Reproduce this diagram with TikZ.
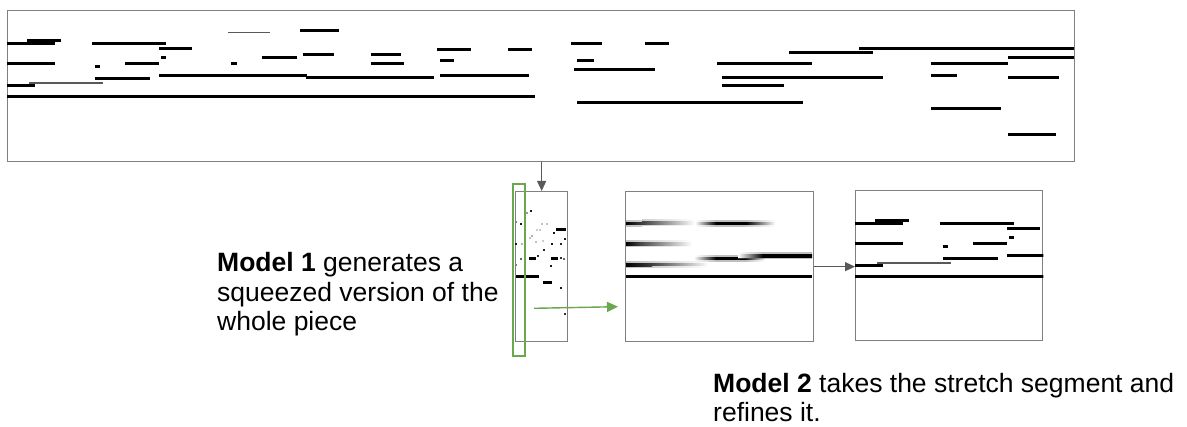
\documentclass[tikz,border=0pt]{standalone}
\usepackage{fontspec}
\setmainfont{Liberation Sans}
\usetikzlibrary{arrows.meta,calc}

\definecolor{framegray}{RGB}{128,128,128}
\definecolor{arrowgray}{RGB}{89,89,89}
\definecolor{leafgreen}{RGB}{106,168,79}

% one note of the piano roll: x from, x to, pitch row y
\newcommand\pn[3]{\draw[note] (#1,#3) -- (#2,#3);}
\newcommand\thinpn[3]{\draw[thinnote] (#1,#3) -- (#2,#3);}
% a blurred note: x from, x to, y, left / middle / right colour
\newcommand\smear[6]{%
  \shade[left color=#4, middle color=#5, right color=#6, opacity=0.25] (#1,#3-3) rectangle (#2,#3+3);
  \shade[left color=#4, middle color=#5, right color=#6] (#1,#3-1.4) rectangle (#2,#3+1.4);}
% a single sampled cell of the squeezed roll
\newcommand\pixdot[3]{\fill[black!#3] (#1-1.4,#2-1.4) rectangle (#1+1.4,#2+1.4);}

% the full piece, in page coordinates of the wide roll
\newcommand\rollnotes{%
  \pn{27}{61}{41}
  \pn{7}{55}{43.5}
  \pn{92}{166}{43.3}
  \pn{159}{192}{49}
  \pn{161}{166}{57.7}
  \thinpn{228}{270}{32.3}
  \pn{300}{339}{30.3}
  \pn{262}{297}{57.7}
  \pn{303}{334}{54.7}
  \pn{371}{401}{54.7}
  \pn{7}{55}{63.3}
  \pn{95}{100}{66.3}
  \pn{125}{159}{63.3}
  \pn{231}{237}{63.7}
  \pn{371}{404}{63.3}
  \pn{95}{150}{78.3}
  \pn{159}{307}{75.3}
  \pn{306}{434}{78}
  \pn{7}{35}{85.3}
  \thinpn{29}{103}{83}
  \pn{7}{535}{97}
  \pn{437}{471}{49.3}
  \pn{508}{532}{49.3}
  \pn{440}{454}{61}
  \pn{440}{529}{75.3}
  \pn{571}{602}{43.3}
  \pn{645}{669}{43.3}
  \pn{577}{594}{61}
  \pn{574}{655}{69.7}
  \pn{717}{812}{63.3}
  \pn{722}{883}{78}
  \pn{722}{784}{85.3}
  \pn{577}{803}{102.7}
  \pn{789}{873}{52.3}
  \pn{859}{1074}{49}
  \pn{1008}{1074}{58}
  \pn{931}{1008}{63.3}
  \pn{931}{957}{75.3}
  \pn{1008}{1059}{78}
  \pn{931}{1001}{108.3}
  \pn{1008}{1056}{134.7}
}

\begin{document}
\begin{tikzpicture}[x=1pt,y=-1pt,
    frame/.style={draw=framegray, line width=1.3pt, rectangle, inner sep=0pt, anchor=north west},
    note/.style={line width=3pt, black},
    thinnote/.style={line width=1.3pt, black!65},
    link/.style={draw=arrowgray, line width=1.2pt, -{Triangle[length=10pt,width=9pt]}},
    glink/.style={draw=leafgreen, line width=1.4pt, -{Triangle[length=11pt,width=10pt]}},
    window/.style={draw=leafgreen, line width=2.4pt, rectangle, inner sep=0pt, anchor=north west},
    caption/.style={font=\fontsize{26.5}{29.5}\selectfont, align=left, inner sep=0pt, anchor=base west}]
\useasboundingbox (0,0) rectangle (1187,427);

% boxes
\node[frame, minimum width=1067pt, minimum height=151pt] (roll) at (7,10) {};
\node[frame, minimum width=52pt, minimum height=150pt] (squeeze) at (515,191) {};
\node[frame, minimum width=188pt, minimum height=150pt] (mid) at (625,191) {};
\node[frame, minimum width=187pt, minimum height=150pt] (stretch) at (855,190) {};

% full piece
\begin{scope}
  \clip (roll.south west) rectangle (roll.north east);
  \rollnotes
\end{scope}

% refined stretch segment: the opening of the piece at full resolution
\begin{scope}
  \clip (stretch.south west) rectangle (stretch.north east);
  \begin{scope}[shift={(848,180)}]
    \rollnotes
  \end{scope}
\end{scope}

% squeezed version
\pixdot{527}{213}{40}\pixdot{531}{211}{90}
\pixdot{516}{222}{50}\pixdot{521}{224}{90}
\pixdot{542}{224}{25}\pixdot{547}{224}{25}
\pixdot{537}{230}{20}\pixdot{540}{230}{20}
\pn{556}{566}{230}
\pixdot{554}{233}{90}
\pixdot{532}{236}{30}\pixdot{530}{238}{25}
\pixdot{536}{242}{25}\pixdot{543}{241}{20}
\pixdot{565}{239}{90}
\pixdot{516}{244}{90}\pixdot{522}{244}{30}\pixdot{552}{244}{90}\pixdot{561}{244}{85}
\pixdot{544}{250}{85}
\pixdot{525}{256}{90}\pixdot{521}{259}{60}\pn{529}{536}{259}\pixdot{538}{256}{80}
\pn{551}{558}{259}\pixdot{561}{258}{80}\pixdot{564}{259}{60}
\pixdot{516}{265}{50}\pixdot{551}{266}{90}
\pn{516}{539}{277}
\pn{543}{552}{283}
\pixdot{561}{288}{90}
\pixdot{565}{314}{80}

% first pass of the second model: blurred notes
\smear{626}{642}{223.5}{black}{black}{black!75}
\smear{642}{695}{223}{black!75}{black!60}{white}
\smear{695}{716}{223.5}{white}{black!40}{black}
\smear{716}{746}{223.5}{black}{black}{black}
\smear{746}{775}{223.5}{black}{black!45}{white}
\smear{745}{806}{230}{white}{black!75}{white}
\smear{750}{812}{214}{white}{black!10}{white}
\smear{626}{642}{244}{black}{black}{black!70}
\smear{642}{692}{244}{black!70}{black!25}{white}
\smear{718}{778}{244}{white}{black!75}{white}
\smear{694}{716}{258.5}{white}{black!45}{black}
\smear{716}{745}{258.5}{black}{black}{black}
\smear{745}{765}{258.5}{black}{black!40}{white}
\smear{738}{763}{256}{white}{black!35}{black}
\smear{763}{812}{256}{black}{black}{black}
\smear{626}{652}{265}{black}{black}{black!75}
\smear{652}{708}{264.5}{black!75}{black!45}{white}
\pn{626}{812}{277}

% window marking the stretched segment
\node[window, minimum width=12pt, minimum height=172pt] (seg) at (512,183) {};

% connectors
\draw[link] (roll.south -| squeeze.north) -- (squeeze.north);
\draw[link] (mid.east) -- (mid.east -| stretch.west);
\coordinate (gstart) at (534,308.3);
\coordinate (gend) at (618,306.7);
\draw[glink] (gstart) -- (gend);

% captions (anchored at the baseline of their last line)
\node[caption] (m1) at (217,331) {\textbf{Model 1} generates a\\squeezed version of the\\whole piece};
\node[caption] (m2) at (713,422) {\textbf{Model 2} takes the stretch segment and\\refines it.};
\end{tikzpicture}
\end{document}
